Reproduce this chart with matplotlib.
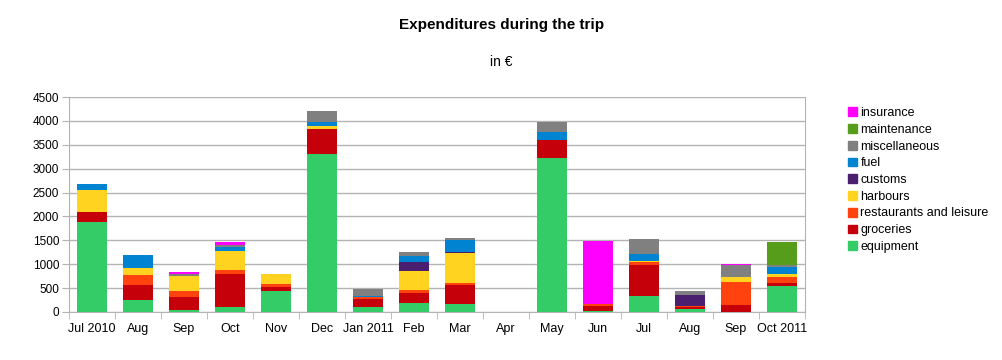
import numpy as np
import matplotlib.pyplot as plt
from matplotlib.patches import Patch

plt.rcParams['font.family'] = ['Liberation Sans', 'DejaVu Sans']

months = ['Jul 2010', 'Aug', 'Sep', 'Oct', 'Nov', 'Dec', 'Jan 2011', 'Feb',
          'Mar', 'Apr', 'May', 'Jun', 'Jul', 'Aug', 'Sep', 'Oct 2011']

# stacked from the bottom up
equipment   = [1890, 250, 40, 100, 445, 3310, 100, 195, 175, 0, 3220, 20, 335, 55, 0, 545]
groceries   = [200, 315, 280, 690, 85, 510, 180, 210, 395, 0, 390, 100, 655, 55, 150, 70]
restaurants = [0, 210, 125, 85, 60, 15, 35, 55, 45, 0, 0, 40, 60, 20, 480, 120]
harbours    = [460, 150, 315, 400, 210, 55, 0, 395, 620, 0, 0, 0, 20, 0, 100, 70]
customs     = [0, 0, 0, 0, 0, 0, 0, 190, 20, 0, 0, 0, 0, 235, 0, 0]
fuel        = [125, 265, 0, 90, 0, 85, 30, 130, 250, 0, 155, 0, 145, 0, 0, 135]
misc        = [0, 0, 40, 30, 0, 225, 135, 75, 50, 0, 215, 0, 305, 70, 245, 40]
maintenance = [0, 0, 0, 0, 0, 0, 0, 0, 0, 0, 0, 0, 0, 0, 0, 490]
insurance   = [0, 0, 36, 75, 0, 0, 0, 0, 0, 0, 0, 1330, 0, 0, 30, 0]

series = [
    ('equipment', equipment, '#33CC66'),
    ('groceries', groceries, '#C5000B'),
    ('restaurants and leisure', restaurants, '#FF420E'),
    ('harbours', harbours, '#FFD320'),
    ('customs', customs, '#4B1F6F'),
    ('fuel', fuel, '#0084D1'),
    ('miscellaneous', misc, '#808080'),
    ('maintenance', maintenance, '#579D1C'),
    ('insurance', insurance, '#FF00FF'),
]

fig = plt.figure(figsize=(10.03, 3.6), dpi=100)
ax = fig.add_axes([69 / 1003, 48 / 360, 736 / 1003, 215 / 360])

x = np.arange(len(months))
bottom = np.zeros(len(months))
for name, vals, col in series:
    vals = np.array(vals, dtype=float)
    ax.bar(x, vals, bottom=bottom, width=0.65, color=col, label=name, zorder=3)
    bottom += vals

ax.set_xlim(-0.5, len(months) - 0.5)
ax.set_ylim(0, 4500)
ax.set_yticks(np.arange(0, 4501, 500))
ax.yaxis.grid(True, color='#b3b3b3', linewidth=1, zorder=0)

ax.set_xticks(x)
ax.set_xticklabels(months)
ax.set_xticks(np.arange(-0.5, len(months), 1), minor=True)
ax.tick_params(axis='x', which='major', length=0, pad=8, labelsize=9)
ax.tick_params(axis='x', which='minor', length=5, color='#b3b3b3', direction='out')
ax.tick_params(axis='y', length=5, color='#b3b3b3', labelsize=8.5, pad=2)

for s in ['left', 'right', 'bottom']:
    ax.spines[s].set_color('#b3b3b3')
ax.spines['top'].set_visible(False)

fig.text(0.5, 1 - 25 / 360, 'Expenditures during the trip', ha='center', va='center',
         fontsize=11, fontweight='bold')
fig.text(0.5, 1 - 62 / 360, 'in €', ha='center', va='center', fontsize=10)

handles = [Patch(color=col, label=name) for name, vals, col in series][::-1]
fig.legend(handles=handles, loc='upper left', bbox_to_anchor=(843 / 1003, 1 - 102 / 360),
           frameon=False, fontsize=9, handlelength=0.7, handleheight=0.7,
           handletextpad=0.3, labelspacing=0.38, borderaxespad=0)

fig.savefig('out.png', dpi=100)
